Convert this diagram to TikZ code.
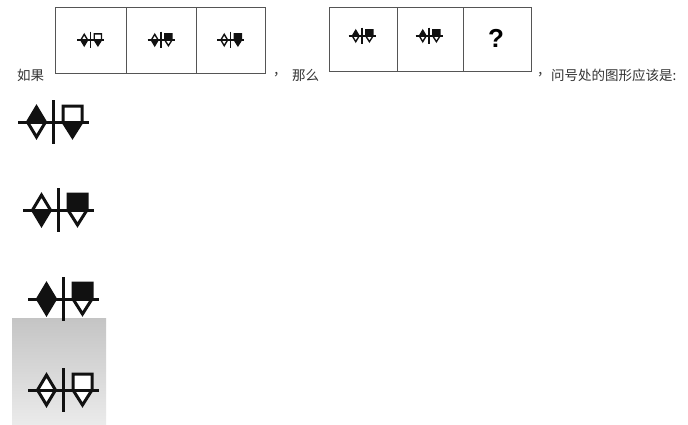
\documentclass[tikz,border=0pt]{standalone}
\usepackage{fontspec}
\newfontfamily\cjkfont{Noto Sans CJK SC}
\newfontfamily\qfont{Liberation Sans}
\definecolor{txt}{HTML}{333333}
\definecolor{ink}{HTML}{111111}
\definecolor{boxline}{HTML}{555555}
\tikzset{
  cell/.style={draw=boxline, line width=0.9pt},
  lbl/.style={inner sep=0pt, text=txt, font=\cjkfont\fontsize{13.5}{14}\selectfont},
}
% #1 x, #2 y, #3 scale, #4 diamond top, #5 diamond bottom, #6 square, #7 triangle
\newcommand\myicon[7]{%
  \pgfmathsetmacro\iconlw{2.6*#3+0.4}%
  \begin{scope}[shift={(#1,#2)},scale=#3,line width=\iconlw pt,draw=ink,line join=miter]
    \fill[#4] (-25.5,0) -- (-16.5,-15) -- (-7.5,0) -- cycle;
    \fill[#5] (-25.5,0) -- (-16.5,15) -- (-7.5,0) -- cycle;
    \fill[#6] (10,0) rectangle (29,-16);
    \fill[#7] (10,0) -- (19.5,15) -- (29,0) -- cycle;
    \draw (-25.5,0) -- (-16.5,-15) -- (-7.5,0) -- (-16.5,15) -- cycle;
    \draw (10,0) -- (10,-16) -- (29,-16) -- (29,0) -- (19.5,15) -- cycle;
    \draw (-35,0) -- (36,0);
    \draw (0,-22) -- (0,22);
  \end{scope}}
\begin{document}
\begin{tikzpicture}[x=1pt,y=-1pt]
  \useasboundingbox[fill=white] (0,0) rectangle (688,424);
  % gradient behind option D
  \shade[top color=black!23, middle color=black!9, bottom color=black!8] (12,318) rectangle (106,424);
  % row 1 boxes
  \draw[cell] (55,7) rectangle (265,73);
  \draw[cell] (126,7) -- (126,73);
  \draw[cell] (196,7) -- (196,73);
  % row 2 boxes
  \draw[cell] (329,7) rectangle (531,71);
  \draw[cell] (397,7) -- (397,71);
  \draw[cell] (463,7) -- (463,71);
  % small icons row 1
  \myicon{90.5}{40}{0.38}{white}{ink}{white}{ink}
  \myicon{161}{40}{0.38}{white}{ink}{ink}{white}
  \myicon{230.5}{40}{0.38}{white}{white}{ink}{ink}
  % small icons row 2
  \myicon{362}{36}{0.38}{ink}{white}{ink}{white}
  \myicon{429}{36}{0.38}{ink}{white}{ink}{white}
  \node[inner sep=0pt, font=\qfont\bfseries\fontsize{26}{28}\selectfont] (q) at (496,38) {?};
  % texts
  \node[lbl, anchor=west] (t1) at (17,75) {如果};
  \node[lbl, anchor=west] (t2) at (273,75) {，};
  \node[lbl, anchor=west] (t3) at (292,75) {那么};
  \node[lbl, anchor=west] (t4) at (537,75) {，};
  \node[lbl, anchor=west] (t5) at (551,75) {问号处的图形应该是:};
  % options
  \myicon{53}{122}{1}{ink}{white}{white}{ink}
  \myicon{58}{210}{1}{white}{ink}{ink}{white}
  \myicon{63}{299}{1}{ink}{ink}{ink}{white}
  \myicon{63}{390}{1}{white}{white}{white}{white}
\end{tikzpicture}
\end{document}
